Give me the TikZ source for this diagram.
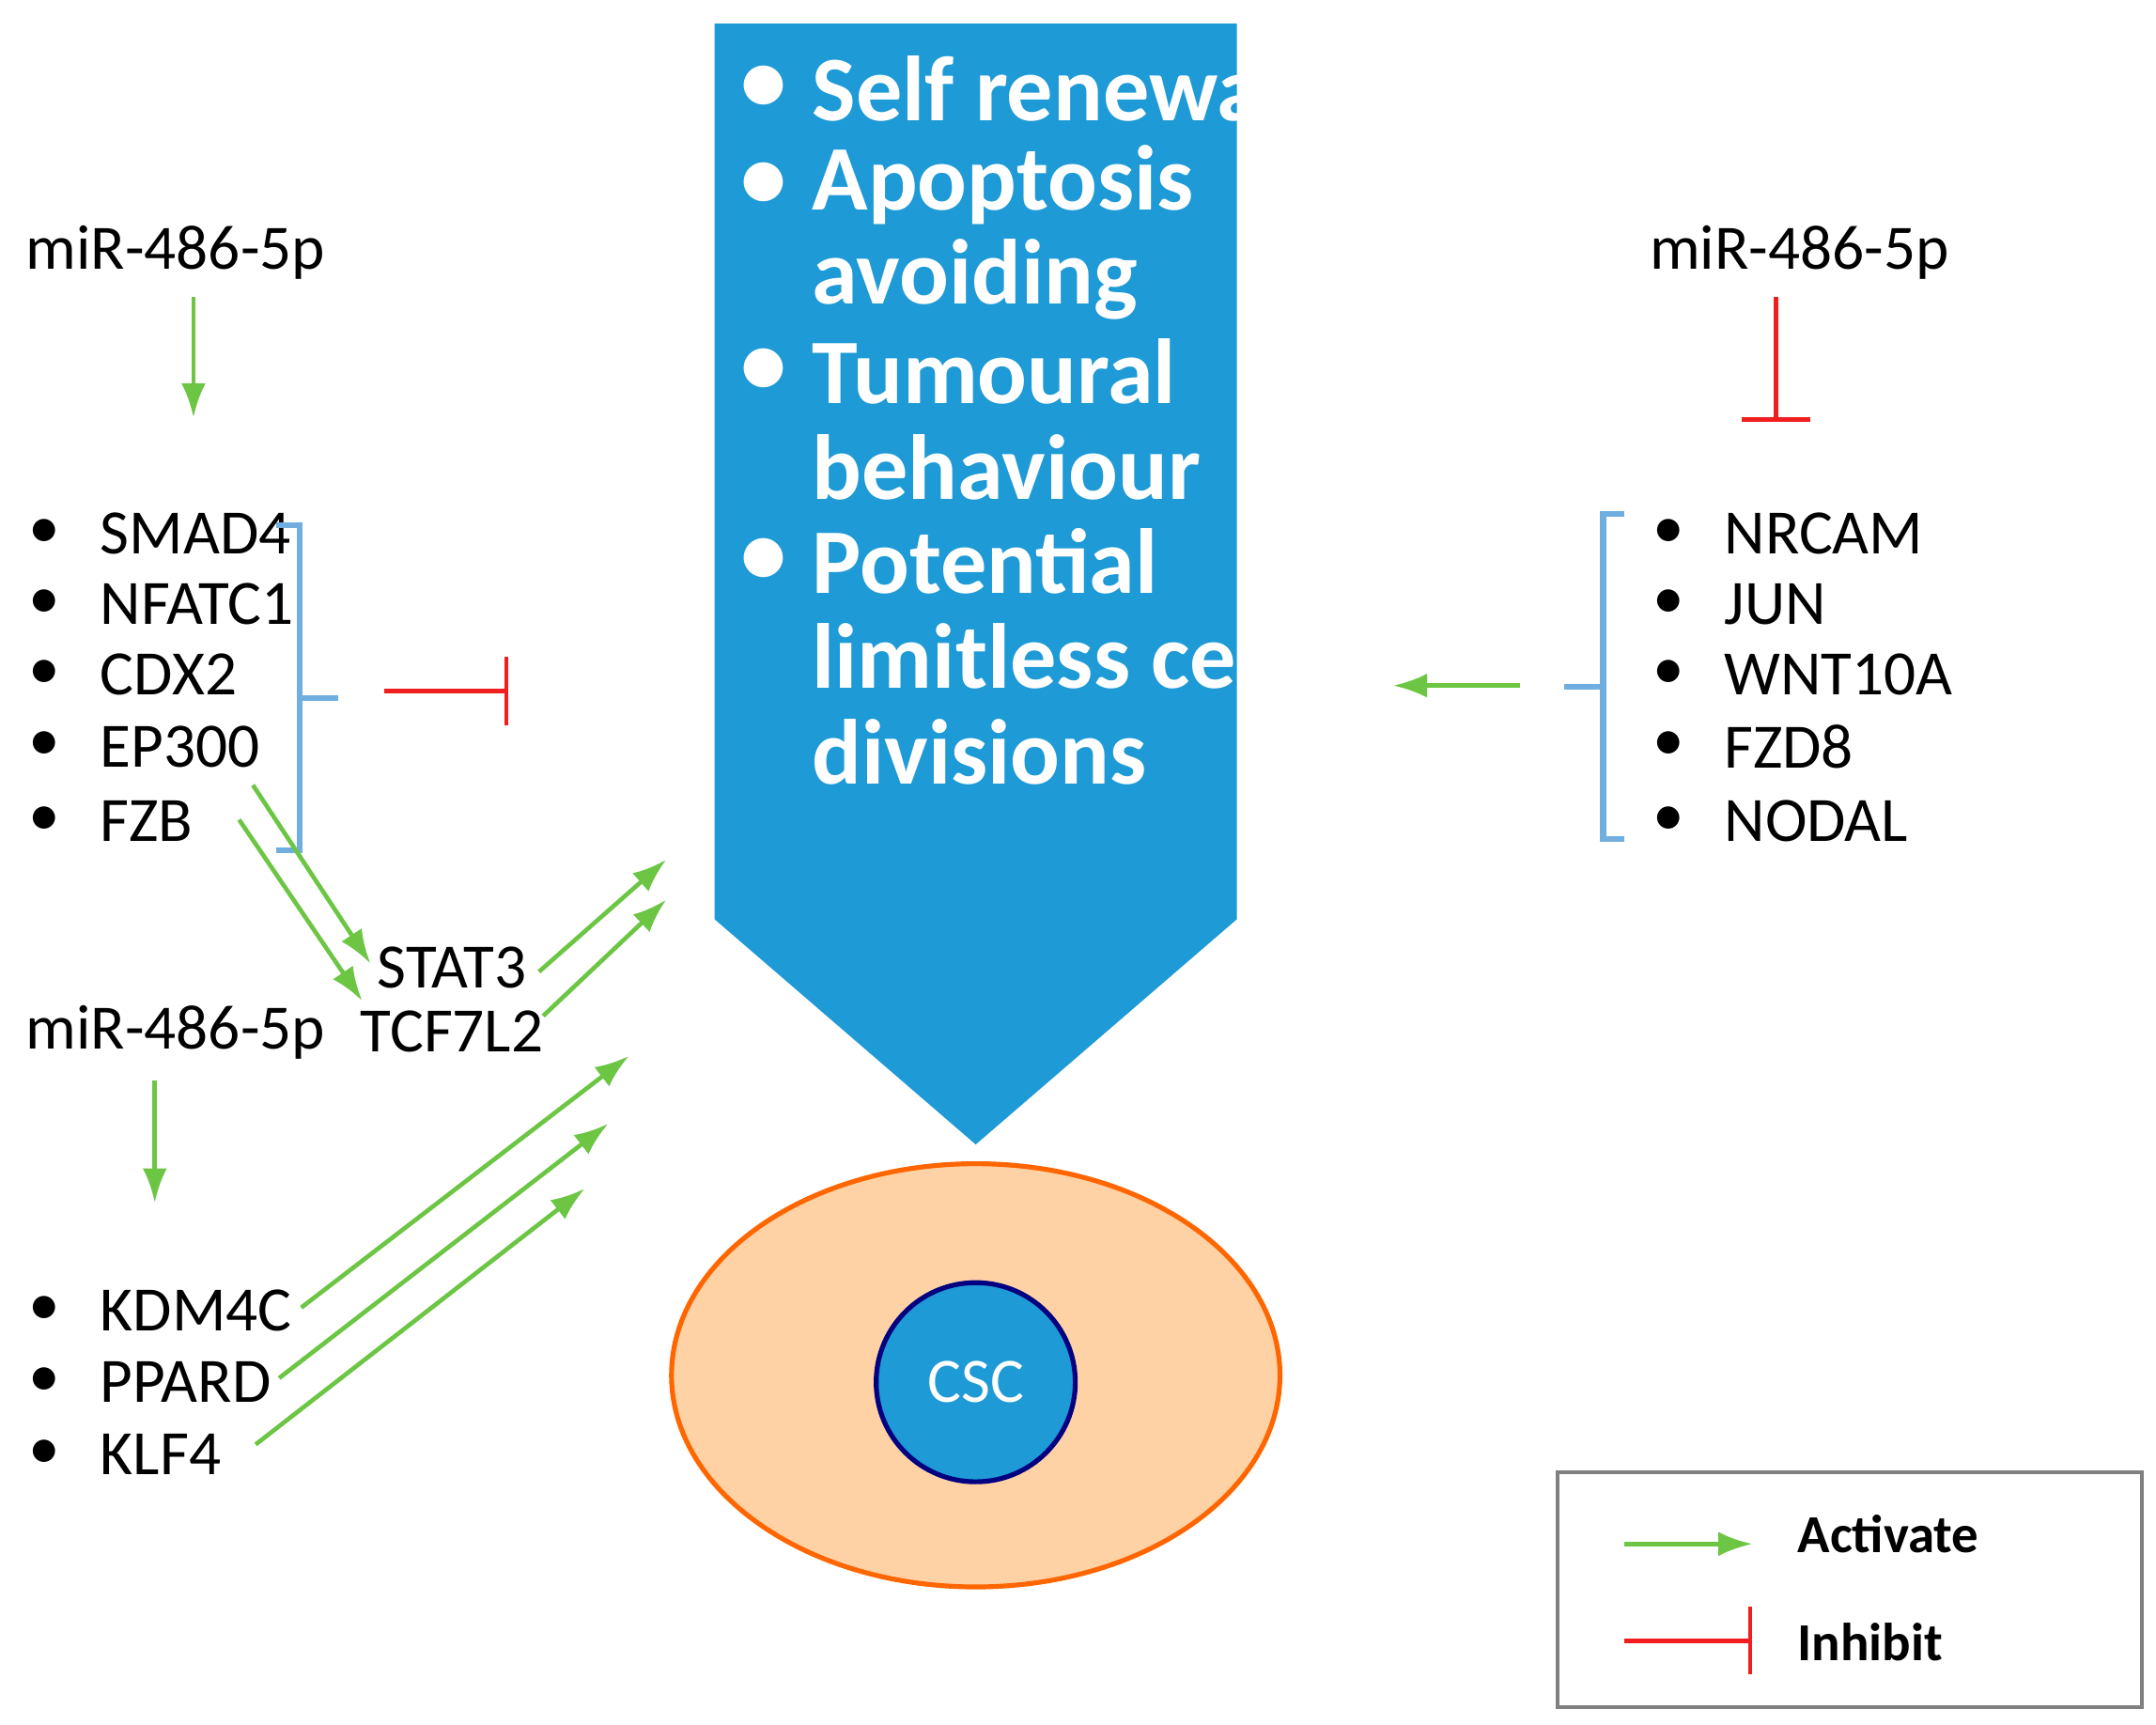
\documentclass[tikz,border=0pt]{standalone}
\usepackage{fontspec}
\setmainfont{Carlito}
\usetikzlibrary{arrows.meta,shapes.geometric}
\definecolor{bl}{HTML}{1E9AD6}
\definecolor{gr}{HTML}{6CC644}
\definecolor{rd}{HTML}{F01E1E}
\definecolor{br}{HTML}{6FAEDF}
\begin{document}
\begin{tikzpicture}[x=0.01cm,y=-0.01cm,
  lab/.style={anchor=west,font=\fontsize{13}{15}\selectfont,inner sep=0},
  big/.style={anchor=west,font=\fontsize{19}{22}\selectfont\bfseries,text=white,inner sep=0},
  act/.style={gr,line width=0.9pt,-{Latex[length=7pt,width=5pt]}},
  inh/.style={rd,line width=0.9pt,-{Bar[width=14pt]}},
  brk/.style={br,line width=1.2pt}]
\useasboundingbox (0,0) rectangle (1560,1248);
\fill[white] (0,0) rectangle (1560,1248);
% big arrow
\fill[bl] (517,17) -- (895,17) -- (895,665) -- (706,828) -- (517,665) -- cycle;
\foreach \y/\t in {64/Self renewal,134/Apoptosis,202/avoiding,269/Tumoural,338/behaviour,406/Potential,475/limitless cell,544/divisions}
  \node[big] at (587,\y) {\t};
\foreach \y in {64,134,269,406} \node[big] at (535,\y) {•};
% cell
\node[ellipse,draw=orange!80!red,fill=orange!35,line width=1pt,minimum width=4.4cm,minimum height=3.06cm,inner sep=0] (cell) at (706,995) {};
\node[circle,draw=blue!50!black,fill=bl,line width=1pt,minimum size=1.44cm,inner sep=0,text=white,font=\fontsize{13}{15}\selectfont] (csc) at (706,1000) {CSC};
% left top
\node[lab] (m1) at (18,183) {miR-486-5p};
\coordinate (m1a) at (140,215); \coordinate (m1b) at (140,302);
\draw[act] (m1a) -- (m1b);
\foreach \y/\t in {386/SMAD4,437/NFATC1,488/CDX2,540/EP300,594/FZB}{
  \node[lab] at (20,\y) {•}; \node[lab] at (72,\y) {\t};}
\draw[brk] (200,380) -- (217,380) -- (217,615) -- (200,615);
\draw[brk] (217,505) -- (245,505);
\coordinate (i1a) at (278,500); \coordinate (i1b) at (368,500);
\draw[inh] (i1a) -- (i1b);
\node[lab,anchor=center] (stat) at (327,700) {STAT3};
\node[lab,anchor=center] (tcf) at (327,746) {TCF7L2};
\coordinate (e1) at (183,568); \coordinate (e2) at (268,697);
\coordinate (f1) at (173,593); \coordinate (f2) at (262,724);
\draw[act] (e1) -- (e2); \draw[act] (f1) -- (f2);
\coordinate (s1) at (390,703); \coordinate (s2) at (482,622);
\coordinate (t1) at (393,735); \coordinate (t2) at (482,651);
\draw[act] (s1) -- (s2); \draw[act] (t1) -- (t2);
% left bottom
\node[lab] (m2) at (18,747) {miR-486-5p};
\coordinate (m2a) at (112,782); \coordinate (m2b) at (112,870);
\draw[act] (m2a) -- (m2b);
\foreach \y/\t in {948/KDM4C,1000/PPARD,1052/KLF4}{
  \node[lab] at (20,\y) {•}; \node[lab] at (72,\y) {\t};}
\coordinate (k1) at (218,946); \coordinate (k2) at (455,764);
\coordinate (p1) at (202,997); \coordinate (p2) at (440,813);
\coordinate (l1) at (185,1045); \coordinate (l2) at (423,860);
\draw[act] (k1) -- (k2); \draw[act] (p1) -- (p2); \draw[act] (l1) -- (l2);
% right
\node[lab] (m3) at (1193,183) {miR-486-5p};
\coordinate (r1) at (1285,215); \coordinate (r2) at (1285,305);
\draw[inh] (r1) -- (r2);
\draw[brk] (1175,372) -- (1160,372) -- (1160,607) -- (1175,607);
\draw[brk] (1160,497) -- (1132,497);
\coordinate (g1) at (1100,496); \coordinate (g2) at (1008,496);
\draw[act] (g1) -- (g2);
\foreach \y/\t in {386/NRCAM,437/JUN,488/WNT10A,540/FZD8,594/NODAL}{
  \node[lab] at (1195,\y) {•}; \node[lab] at (1247,\y) {\t};}
% legend
\draw[gray,line width=0.8pt] (1127,1065) rectangle (1550,1235);
\coordinate (la1) at (1175,1117); \coordinate (la2) at (1268,1117);
\coordinate (lb1) at (1175,1187); \coordinate (lb2) at (1268,1187);
\draw[act] (la1) -- (la2); \draw[inh] (lb1) -- (lb2);
\node[lab,font=\fontsize{11}{13}\selectfont\bfseries] at (1300,1110) {Activate};
\node[lab,font=\fontsize{11}{13}\selectfont\bfseries] at (1300,1188) {Inhibit};
\end{tikzpicture}
\end{document}
